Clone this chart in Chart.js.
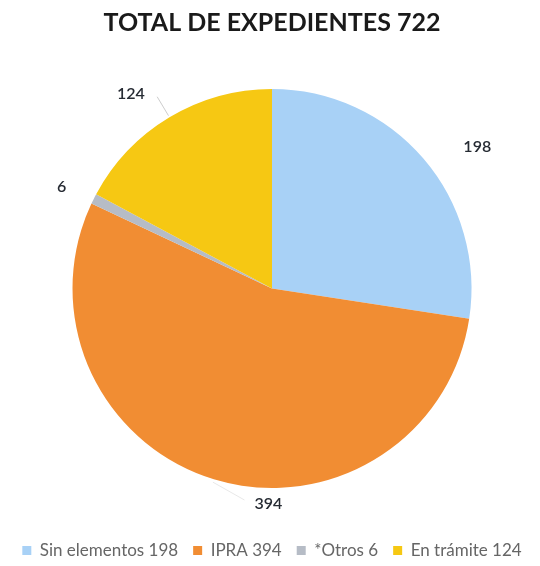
<!DOCTYPE html>
<html>
<head>
<meta charset="utf-8">
<script src="https://cdn.jsdelivr.net/npm/chart.js@4"></script>
<style>
  html, body { margin: 0; padding: 0; background: #fff; }
  #wrap { width: 540px; height: 566px; }
</style>
</head>
<body>
<div id="wrap"><canvas id="pieChart" width="540" height="566"></canvas></div>
<script>
// Data
const categories = ['Sin elementos', 'IPRA', '*Otros', 'En trámite'];
const values = [198, 394, 6, 124];
const colors = ['#a8d1f6', '#f18d33', '#b6bcc6', '#f6c813'];
const chartTitle = 'TOTAL DE EXPEDIENTES 722';

// label placement tweaks (angle shift in degrees, distance beyond the rim)
const labelShift = [6, -16, -1, -5];
const labelGap = [50, 16, 34, 41];

const FONT = "Lato, 'Open Sans', sans-serif";

// draws the outside value labels and faint leader lines
const outsideLabels = {
    id: 'outsideLabels',
    afterDatasetsDraw(chart) {
        const ctx = chart.ctx;
        const arcs = chart.getDatasetMeta(0).data;
        ctx.save();
        ctx.font = '600 16px ' + FONT;
        ctx.fillStyle = '#262b33';
        ctx.textAlign = 'center';
        ctx.textBaseline = 'middle';
        arcs.forEach((arc, i) => {
            const p = arc.getProps(['x', 'y', 'startAngle', 'endAngle', 'outerRadius'], true);
            const a = (p.startAngle + p.endAngle) / 2;
            const mid = a + labelShift[i] * Math.PI / 180;
            const r = p.outerRadius + labelGap[i];
            const lx = p.x + Math.cos(mid) * r;
            const ly = p.y + Math.sin(mid) * r;
            // leader lines (radial, very faint)
            if (i === 3) {
                ctx.strokeStyle = 'rgba(170,170,170,0.6)';
                ctx.lineWidth = 1;
                ctx.beginPath();
                ctx.moveTo(p.x + Math.cos(a) * (p.outerRadius + 2), p.y + Math.sin(a) * (p.outerRadius + 2));
                ctx.lineTo(p.x + Math.cos(a) * (p.outerRadius + 24), p.y + Math.sin(a) * (p.outerRadius + 24));
                ctx.stroke();
            }
            if (i === 1) {
                ctx.strokeStyle = 'rgba(190,190,190,0.35)';
                ctx.lineWidth = 1;
                ctx.beginPath();
                ctx.moveTo(p.x + Math.cos(a) * (p.outerRadius + 3), p.y + Math.sin(a) * (p.outerRadius + 3));
                ctx.lineTo(lx - 24, ly - 4);
                ctx.stroke();
            }
            ctx.fillText(String(values[i]), lx, ly);
        });
        ctx.restore();
    }
};

new Chart(document.getElementById('pieChart').getContext('2d'), {
    type: 'pie',
    data: {
        labels: categories,
        datasets: [{
            data: values,
            backgroundColor: colors,
            borderWidth: 0
        }]
    },
    options: {
        responsive: false,
        animation: false,
        layout: { padding: { left: 4, right: 0, top: 0, bottom: -3 } },
        plugins: {
            title: {
                display: true,
                text: chartTitle,
                color: '#1a1a1a',
                font: { family: FONT, size: 25, weight: 'bold' },
                padding: { top: 8, bottom: 51 }
            },
            legend: {
                position: 'bottom',
                title: { display: true, text: '', font: { size: 10 }, padding: { top: 27, bottom: 0 } },
                labels: {
                    color: '#404040',
                    font: { family: FONT, size: 17 },
                    boxWidth: 9,
                    boxHeight: 9,
                    padding: 15,
                    generateLabels(chart) {
                        return categories.map((c, i) => ({
                            text: c + ' ' + values[i],
                            fillStyle: colors[i],
                            strokeStyle: colors[i],
                            lineWidth: 0,
                            index: i
                        }));
                    }
                }
            },
            tooltip: { enabled: false }
        }
    },
    plugins: [outsideLabels]
});
</script>
</body>
</html>
